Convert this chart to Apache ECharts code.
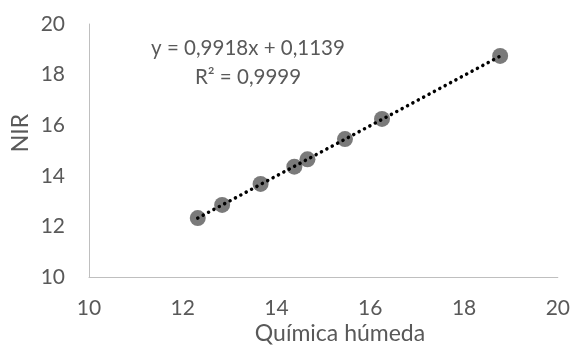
<html>
<head>
<meta charset="utf-8">
<script src="https://cdn.jsdelivr.net/npm/echarts@6/dist/echarts.min.js"></script>
</head>
<body>
<style>
    html, body, #main {
        width: 100%;
        height: 100%;
        margin: 0;
        background: #fff;
    }
</style>
<div id="main"></div>
<script>
    // values
    var quimica = [12.32, 12.84, 13.66, 14.38, 14.66, 15.46, 16.25, 18.77];
    var nir     = [12.33, 12.85, 13.68, 14.36, 14.65, 15.45, 16.25, 18.74];
    // trendline ends
    var trendX = [12.32, 18.77];
    var trendY = [12.33, 18.73];
    var ticks = [10, 12, 14, 16, 18, 20];
    var xTitle = 'Química húmeda';
    var yTitle = 'NIR';
    var eqText = 'y = 0,9918x + 0,1139';
    var r2Text = 'R² = 0,9999';

    var font = 'Lato, "Open Sans", sans-serif';
    var grey = '#595959';
    var chart = echarts.init(document.getElementById('main'));

    var points = quimica.map(function (x, i) { return [x, nir[i]]; });
    var trend = trendX.map(function (x, i) { return [x, trendY[i]]; });

    var axisCommon = {
        type: 'value',
        min: ticks[0],
        max: ticks[ticks.length - 1],
        interval: 2,
        splitLine: { show: false },
        axisTick: { show: false },
        axisLine: { show: true, lineStyle: { color: '#bfbfbf', width: 1 } },
        axisLabel: { color: grey, fontSize: 21, fontFamily: font }
    };

    var option = {
        animation: false,
        grid: { left: 89, right: 15, top: 24, bottom: 69 },
        xAxis: Object.assign({}, axisCommon, {
            axisLabel: Object.assign({}, axisCommon.axisLabel, { margin: 21 })
        }),
        yAxis: Object.assign({}, axisCommon, {
            axisLabel: Object.assign({}, axisCommon.axisLabel, { margin: 24 })
        }),
        graphic: [
            { type: 'text', x: 248, y: 48,
              style: { text: eqText, fill: grey, fontSize: 20.5, fontFamily: font,
                       align: 'center', verticalAlign: 'middle' } },
            { type: 'text', x: 248, y: 77,
              style: { text: r2Text, fill: grey, fontSize: 20.5, fontFamily: font,
                       align: 'center', verticalAlign: 'middle' } },
            { type: 'text', x: 340, y: 334,
              style: { text: xTitle, fill: grey, fontSize: 23, fontFamily: font,
                       align: 'center', verticalAlign: 'middle' } },
            { type: 'text', x: 21, y: 133, rotation: Math.PI / 2,
              style: { text: yTitle, fill: grey, fontSize: 23, fontFamily: font,
                       align: 'center', verticalAlign: 'middle' } }
        ],
        series: [
            {
                type: 'scatter',
                data: points,
                symbolSize: 16,
                itemStyle: { color: grey },
                z: 2
            },
            {
                type: 'line',
                data: trend,
                symbol: 'none',
                lineStyle: { color: '#000', width: 3.5, type: [0.1, 6], cap: 'round' },
                z: 3
            }
        ]
    };
    chart.setOption(option);
</script>
</body>
</html>
